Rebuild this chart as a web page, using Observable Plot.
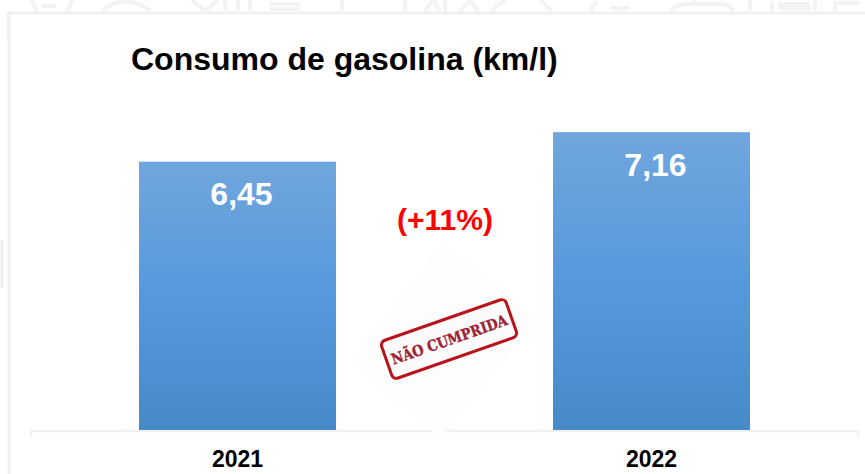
<!DOCTYPE html>
<html lang="pt">
<head>
<meta charset="utf-8">
<script src="https://cdn.jsdelivr.net/npm/d3@7"></script>
<script src="https://cdn.jsdelivr.net/npm/@observablehq/plot@0.6"></script>
<style>
html,body{margin:0;padding:0;background:#fff;width:865px;height:474px;overflow:hidden}
#wrap{position:relative;width:865px;height:474px;font-family:"Liberation Sans",Arial,sans-serif}
#bg{position:absolute;left:0;top:0}
#chart{position:absolute;left:0;top:0}
#chart svg{background:transparent;display:block}
#title{position:absolute;left:131px;top:41px;margin:0;font-size:32px;line-height:36px;font-weight:700;color:#000;white-space:nowrap}
</style>
</head>
<body>
<div id="wrap">
<svg id="bg" width="865" height="474" viewBox="0 0 865 474" fill="none">
  <g stroke="#f1f1f1" stroke-width="3">
    <path d="M8 40V13H865"/>
    <path d="M9 13V474"/>
    <path d="M31 437V431H858V437" stroke-width="2.5"/>
  </g>
  <g stroke="#f3f3f3" stroke-width="4">
    <path d="M32 0L37 11M72 0L68 11M42 6h14"/>
    <path d="M102 11Q125 -8 150 11"/>
    <path d="M192 0L205 11L218 0M225 0V11M238 0V11M250 0V11M270 4H300M270 9H300M342 0V11M405 0V11"/>
    <path d="M425 11L433 0L440 11M445 0V11M460 11L470 0L478 11"/>
    <path d="M492 11Q498 3 505 1M540 0L552 11M590 11L597 1"/>
    <path d="M610 8H630M672 11Q675 4 690 4H720Q730 4 733 11M695 0V4"/>
    <path d="M750 0V11M772 1V11M778 4H808V8H778M815 0V11M835 11V3H860"/>
  </g>
  <path d="M2 240V288" stroke="#efefef" stroke-width="3"/>
</svg>
<div id="chart"></div>
<h1 id="title">Consumo de gasolina (km/l)</h1>
</div>
<script>
const years = ["2021", "2022"];
const consumo = [6.45, 7.16];
const rotulos = ["6,45", "7,16"];
const variacao = "(+11%)";
const variacaoNivel = 5.05;
const carimbo = "NÃO CUMPRIDA";

const rows = years.map((year, i) => ({year, value: consumo[i], label: rotulos[i]}));

const gradient = () => {
  const svg = d3.create("svg:g");
  const g = svg.append("defs").append("linearGradient")
    .attr("id", "barra").attr("x1", 0).attr("y1", 0).attr("x2", 0).attr("y2", 1);
  g.append("stop").attr("offset", "0%").attr("stop-color", "#70a6dd");
  g.append("stop").attr("offset", "50%").attr("stop-color", "#5599dc");
  g.append("stop").attr("offset", "100%").attr("stop-color", "#478ac9");
  return svg.node();
};

const stamp = () => {
  const svg = d3.create("svg:g");
  svg.append("path").attr("d", "M443 243L538 317L440 438L350 363Z").attr("fill", "#fdfdfd");
  const s = svg.append("g").attr("transform", "translate(449,339) rotate(-19.3)");
  s.append("rect").attr("x", -66).attr("y", -20).attr("width", 132).attr("height", 40).attr("rx", 5)
    .attr("fill", "#fbfbfb").attr("stroke", "#b8141c").attr("stroke-width", 3);
  s.append("text").attr("text-anchor", "middle").attr("y", 6)
    .attr("textLength", 122).attr("lengthAdjust", "spacingAndGlyphs")
    .attr("font-family", "'DejaVu Serif',serif").attr("font-weight", 700).attr("font-size", 15)
    .attr("fill", "#9c2333").attr("stroke", "#9c2333").attr("stroke-width", 0.4).text(carimbo);
  return svg.node();
};

const plot = Plot.plot({
  width: 865,
  height: 474,
  marginTop: 97.2,
  marginBottom: 44,
  marginLeft: 30,
  marginRight: 6,
  style: {background: "transparent", fontFamily: "'Liberation Sans',Arial,sans-serif"},
  x: {domain: years, paddingInner: 0.524, paddingOuter: 0.263, label: null},
  y: {domain: [0, 8], axis: null, label: null},
  marks: [
    gradient,
    stamp,
    Plot.barY(rows, {x: "year", y: "value", fill: "url(#barra)"}),
    Plot.axisX({fontSize: 23, fontWeight: 700, fill: "#000", tickSize: 0, tickPadding: 20, dx: -0.5, label: null}),
    Plot.text(rows, {x: "year", y: "value", text: "label", dx: 3.5, dy: 33, fill: "#fff", fontSize: 32, fontWeight: 700}),
    Plot.text([variacao], {x: () => years[0], y: () => variacaoNivel, text: d => d, dx: 207, fill: "#ff0000", fontSize: 30, fontWeight: 700})
  ]
});
document.getElementById("chart").append(plot);
</script>
</body>
</html>
